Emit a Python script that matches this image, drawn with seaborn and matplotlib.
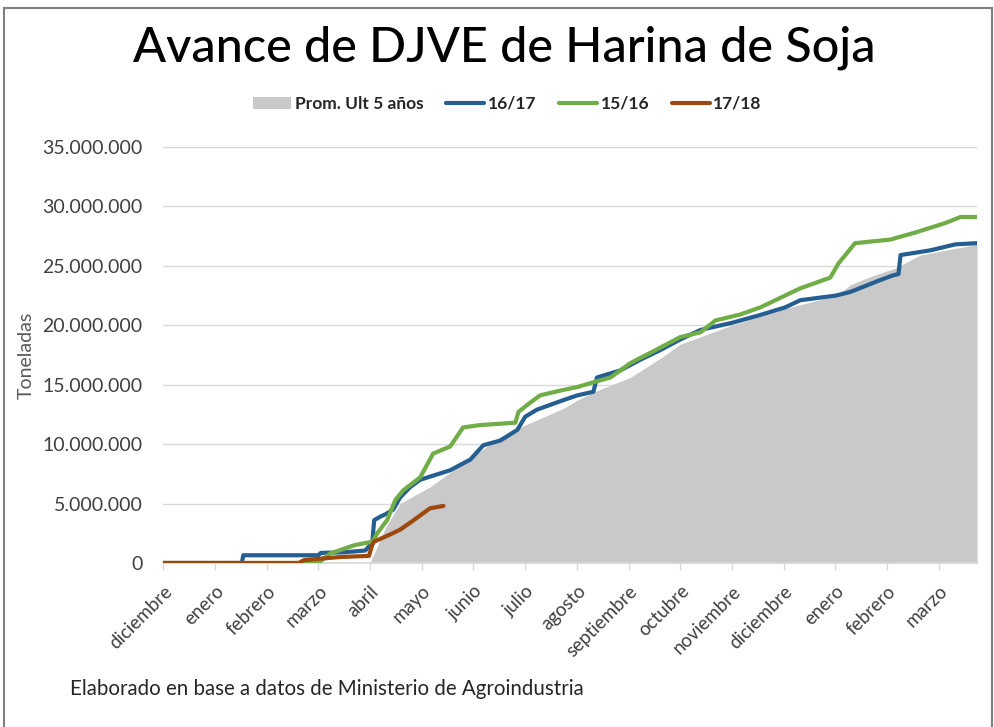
import numpy as np
import pandas as pd
import matplotlib
matplotlib.use('Agg')
import matplotlib.pyplot as plt
import matplotlib.ticker as mticker
from matplotlib.lines import Line2D
from matplotlib.patches import Patch, Rectangle
import seaborn as sns

sns.set_theme(style='white')
plt.rcParams['font.family'] = ['Lato', 'DejaVu Sans']

# x in months counted from the start of "diciembre", y in millions of tonnes
months = ['diciembre', 'enero', 'febrero', 'marzo', 'abril', 'mayo', 'junio', 'julio',
          'agosto', 'septiembre', 'octubre', 'noviembre', 'diciembre', 'enero',
          'febrero', 'marzo']

prom_x = [0, 4.0, 4.1, 4.3, 4.58, 5.16, 5.74, 6.52, 7.0, 7.74, 8.01, 8.45, 9.03, 9.61,
          10.0, 11.0, 12.03, 13.02, 13.29, 13.68, 14.16, 14.64, 15.74]
prom_y = [0, 0, 1.0, 3.0, 5.0, 6.4, 8.2, 10.6, 11.6, 13.0, 13.7, 14.6, 15.6, 17.2,
          18.4, 20.0, 21.4, 22.5, 23.4, 24.1, 24.8, 25.9, 26.8]

s1617_x = [0, 1.52, 1.55, 3.0, 3.05, 3.5, 3.91, 4.0, 4.04, 4.08, 4.2, 4.3, 4.45, 4.58,
           4.78, 4.97, 5.55, 5.94, 6.19, 6.52, 6.85, 7.0, 7.23, 7.74, 8.01, 8.32, 8.39,
           8.84, 9.23, 9.61, 10.0, 10.39, 11.0, 11.5, 12.03, 12.32, 13.02, 13.29, 13.87,
           14.12, 14.22, 14.26, 14.84, 15.32, 15.74]
s1617_y = [0, 0, 0.65, 0.65, 0.85, 0.9, 1.05, 1.5, 1.5, 3.6, 3.9, 4.1, 4.5, 5.5,
           6.4, 7.0, 7.8, 8.7, 9.9, 10.3, 11.2, 12.3, 12.9, 13.7, 14.1, 14.4, 15.6,
           16.2, 17.1, 17.9, 18.8, 19.6, 20.2, 20.8, 21.5, 22.1, 22.5, 22.8, 23.8,
           24.2, 24.3, 25.9, 26.3, 26.8, 26.9]

s1516_x = [0, 3.0, 3.23, 3.7, 4.05, 4.14, 4.33, 4.49, 4.64, 4.97, 5.22, 5.55, 5.8, 6.13,
           6.81, 6.87, 7.04, 7.29, 7.68, 8.01, 8.32, 8.65, 9.03, 9.52, 10.0, 10.39,
           10.68, 11.16, 11.55, 12.03, 12.32, 12.9, 13.06, 13.38, 14.06, 14.55, 15.13,
           15.42, 15.74]
s1516_y = [0, 0, 0.8, 1.5, 1.8, 2.5, 3.6, 5.3, 6.1, 7.2, 9.2, 9.8, 11.4, 11.6,
           11.8, 12.7, 13.3, 14.1, 14.5, 14.8, 15.2, 15.6, 16.8, 17.9, 19.0, 19.4,
           20.4, 20.9, 21.5, 22.5, 23.1, 24.0, 25.2, 26.9, 27.2, 27.8, 28.6,
           29.1, 29.1]

s1718_x = [0, 2.62, 2.73, 3.42, 3.98, 4.04, 4.08, 4.39, 4.58, 4.78, 4.97, 5.16, 5.42]
s1718_y = [0, 0, 0.25, 0.5, 0.6, 1.5, 1.8, 2.4, 2.8, 3.4, 4.0, 4.6, 4.8]

series_names = ['16/17', '15/16', '17/18']
colors = {'16/17': '#255e91', '15/16': '#70ad47', '17/18': '#9e480e'}
prom_color = '#c9c9c9'

frames = []
for name, xs, ys in zip(series_names, [s1617_x, s1516_x, s1718_x], [s1617_y, s1516_y, s1718_y]):
    frames.append(pd.DataFrame({'mes': xs, 'ton': np.array(ys) * 1e6, 'campaña': name}))
df = pd.concat(frames, ignore_index=True)

fig = plt.figure(figsize=(9.95, 7.27), dpi=100)
ax = fig.add_axes([0.164, 0.2256, 0.818, 0.5724])

ax.fill_between(prom_x, np.array(prom_y) * 1e6, 0, color=prom_color, lw=0, zorder=1)
sns.lineplot(data=df, x='mes', y='ton', hue='campaña', hue_order=series_names,
             palette=colors, estimator=None, sort=False, lw=3, legend=False, ax=ax, zorder=3)

ax.set_xlim(0, 15.74)
ax.set_ylim(0, 35e6)
ax.set_yticks(np.arange(0, 35e6 + 1, 5e6))
ax.yaxis.set_major_formatter(mticker.FuncFormatter(lambda v, p: f'{int(v):,}'.replace(',', '.')))
ax.grid(axis='y', color='#d9d9d9', lw=1)
ax.set_axisbelow(True)
ax.set_xticks(range(len(months)))
ax.set_xticklabels(months, rotation=45, ha='right', va='top', rotation_mode='anchor')
ax.tick_params(axis='x', bottom=True, length=5, width=1, color='#d9d9d9', pad=9,
               labelsize=13.5, labelcolor='#404040')
ax.tick_params(axis='y', left=False, pad=9, labelsize=14, labelcolor='#404040')
for s in ['top', 'right', 'left']:
    ax.spines[s].set_visible(False)
ax.spines['bottom'].set_color('#d9d9d9')
ax.set_xlabel('')
ax.set_ylabel('Toneladas', fontsize=14, color='#595959')
ax.yaxis.set_label_coords(-0.158, 0.5)

fig.text(0.507, 0.934, 'Avance de DJVE de Harina de Soja', ha='center', va='center',
         fontsize=35, fontweight='medium', color='black')

handles = [Patch(facecolor=prom_color, edgecolor='none')] + \
          [Line2D([0], [0], color=colors[n], lw=3) for n in series_names]
labels = ['Prom. Ult 5 años'] + series_names
fig.legend(handles, labels, loc='center', bbox_to_anchor=(0.51, 0.857), ncol=4,
           frameon=False, prop={'weight': 'bold', 'size': 12.5}, handlelength=2.2,
           handletextpad=0.2, columnspacing=1.3)

fig.text(0.07, 0.044, 'Elaborado en base a datos de Ministerio de Agroindustria',
         fontsize=14.8, color='#262626')

fig.add_artist(Rectangle((0.004, -0.01), 0.993, 0.999, transform=fig.transFigure,
                         fill=False, edgecolor='#7f7f7f', lw=1.5))

fig.savefig('out.png', dpi=100)
